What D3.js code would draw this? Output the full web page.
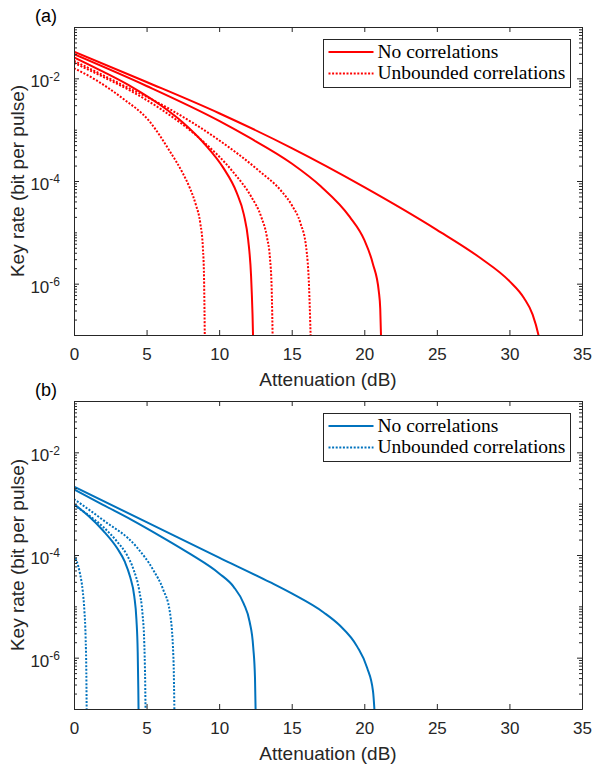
<!DOCTYPE html>
<html>
<head>
<meta charset="utf-8">
<script src="https://cdn.jsdelivr.net/npm/d3@7"></script>
<style>
  body { margin: 0; background: #fff; }
  svg { display: block; }
</style>
</head>
<body>
<div id="root"></div>
<script>
const width = 593;
const height = 766;

// x ticks and y tick exponents
const xTicks = [0, 5, 10, 15, 20, 25, 30, 35];
const yLabelExps = [-2, -4, -6];
const legendLabels = ['No correlations', 'Unbounded correlations'];

// panel (a), red: [attenuation dB, key rate]
const redSolid1 = [[0, 3.31e-2], [5, 8.5e-3], [10, 2.09e-3], [15, 4.37e-4], [20, 7.6e-5], [25, 1.12e-5], [28, 3.16e-6], [30, 1.12e-6], [31, 5.25e-7], [31.6, 2.5e-7], [32.0, 1e-7], [32.2, 5e-8]];
const redSolid2 = [[0, 2.95e-2], [5, 7.1e-3], [10, 1.48e-3], [12, 7.2e-4], [15, 2.19e-4], [17, 7.9e-5], [19, 2.0e-5], [20, 7.1e-6], [20.6, 2.4e-6], [21.0, 7.1e-7], [21.1, 3.2e-7], [21.18, 5e-8]];
const redSolid3 = [[0, 2.57e-2], [2, 1.35e-2], [4, 6.76e-3], [6, 2.95e-3], [7.5, 1.38e-3], [9, 5.25e-4], [10.3, 1.78e-4], [11.2, 6.0e-5], [11.7, 2.24e-5], [12.0, 7.1e-6], [12.2, 1.41e-6], [12.3, 2.5e-7], [12.36, 5e-8]];
const redDotted1 = [[0, 1.58e-2], [1.5, 9.3e-3], [3.3, 4.17e-3], [5.2, 1.45e-3], [6.6, 3.8e-4], [7.5, 1.41e-4], [8.0, 7.1e-5], [8.4, 3.4e-5], [8.7, 1.51e-5], [8.88, 5e-6], [8.96, 1.26e-6], [9.02, 5e-8]];
const redDotted2 = [[0, 2.0e-2], [2, 1.07e-2], [4, 5.5e-3], [6, 2.5e-3], [8.7, 6.6e-4], [11, 1.45e-4], [12.2, 5.0e-5], [12.9, 2.0e-5], [13.3, 7.9e-6], [13.5, 3.16e-6], [13.62, 7.9e-7], [13.7, 5e-8]];
const redDotted3 = [[0, 2.19e-2], [3, 8.3e-3], [6.6, 2.51e-3], [9.8, 6.8e-4], [12.7, 1.62e-4], [14.3, 6.3e-5], [15.0, 3.4e-5], [15.6, 1.51e-5], [16.0, 5e-6], [16.2, 7.9e-7], [16.28, 1.6e-7], [16.33, 5e-8]];

// panel (b), blue
const blueSolid1 = [[0, 2.14e-3], [5, 4.37e-4], [10, 8.9e-5], [13.5, 2.95e-5], [15, 1.78e-5], [17.2, 7.6e-6], [18.3, 4.27e-6], [19.5, 1.66e-6], [20.2, 6.3e-7], [20.6, 2.24e-7], [20.76, 5e-8]];
const blueSolid2 = [[0, 1.9e-3], [2, 9.5e-4], [4, 4.8e-4], [6, 2.29e-4], [8, 1.05e-4], [10, 4.37e-5], [11, 2.4e-5], [11.7, 1.12e-5], [12.1, 5e-6], [12.35, 1.58e-6], [12.47, 4e-7], [12.53, 5e-8]];
const blueSolid3 = [[0, 9.8e-4], [1, 5.75e-4], [2, 3.0e-4], [3, 1.32e-4], [3.5, 7.4e-5], [3.86, 3.8e-5], [4.15, 1.58e-5], [4.3, 5.6e-6], [4.39, 1.26e-6], [4.43, 2.5e-7], [4.46, 5e-8]];
const blueDotted1 = [[0, 1e-4], [0.2, 7.4e-5], [0.41, 4.37e-5], [0.6, 2.0e-5], [0.72, 7.9e-6], [0.8, 2.5e-6], [0.85, 5e-7], [0.88, 5e-8]];
const blueDotted2 = [[0, 9.3e-4], [1, 6.0e-4], [2, 3.55e-4], [3, 1.78e-4], [3.63, 1.02e-4], [4.1, 5.25e-5], [4.5, 2.0e-5], [4.72, 7.1e-6], [4.84, 2.0e-6], [4.9, 4e-7], [4.94, 5e-8]];
const blueDotted3 = [[0, 1.23e-3], [2, 4.8e-4], [4.3, 1.45e-4], [5.46, 5.1e-5], [6.15, 2.1e-5], [6.6, 7.9e-6], [6.85, 1.0e-6], [6.93, 5e-8]];

const panels = [
    { top: 27, label: '(a)', color: '#ff0000',
      solid: [redSolid1, redSolid2, redSolid3], dotted: [redDotted1, redDotted2, redDotted3] },
    { top: 401, label: '(b)', color: '#0072bd',
      solid: [blueSolid1, blueSolid2, blueSolid3], dotted: [blueDotted1, blueDotted2, blueDotted3] }
];

const left = 74;
const right = 582;
const plotH = 308;
const axisColor = '#262626';
const sans = '"Liberation Sans", Arial, Helvetica, sans-serif';
const serif = '"Liberation Serif", "Times New Roman", serif';
const dotPattern = '2,1.6';

const svg = d3.select('#root')
    .append('svg')
    .attr('width', width)
    .attr('height', height);

const x = d3.scaleLinear().domain([0, 35]).range([left, right]);

// minor ticks for the log axis: every m*10^k that is not a labelled decade
const minorTicks = [];
for (let e = -7; e <= -2; e++) {
    for (let m = 1; m <= 9; m++) {
        const v = m * Math.pow(10, e);
        if (m === 1 && yLabelExps.includes(e)) continue;
        if (v >= 1e-7 && v <= 1e-1) minorTicks.push(v);
    }
}
minorTicks.push(1e-1);

const styleAxis = g => {
    g.select('.domain').attr('stroke', axisColor);
    g.selectAll('.tick line').attr('stroke', axisColor);
    g.selectAll('.tick text').attr('fill', axisColor).attr('font-family', sans).attr('font-size', 17);
};

panels.forEach((p, idx) => {
    const top = p.top;
    const bottom = top + plotH;
    const y = d3.scaleLog().domain([1e-7, 1e-1]).range([bottom, top]);
    const g = svg.append('g');

    const clipId = `clip-${idx}`;
    g.append('clipPath').attr('id', clipId)
        .append('rect')
        .attr('x', left).attr('y', top)
        .attr('width', right - left).attr('height', plotH);

    const line = d3.line()
        .x(d => x(d[0]))
        .y(d => y(d[1]))
        .curve(d3.curveMonotoneX);

    const lines = g.append('g').attr('clip-path', `url(#${clipId})`);
    p.solid.forEach(s => {
        lines.append('path').datum(s)
            .attr('d', line)
            .attr('fill', 'none')
            .attr('stroke', p.color)
            .attr('stroke-width', 2);
    });
    p.dotted.forEach(s => {
        lines.append('path').datum(s)
            .attr('d', line)
            .attr('fill', 'none')
            .attr('stroke', p.color)
            .attr('stroke-width', 2)
            .attr('stroke-dasharray', dotPattern);
    });

    // x axes (bottom labelled, top bare)
    g.append('g')
        .attr('transform', `translate(0,${bottom})`)
        .call(d3.axisBottom(x).tickValues(xTicks).tickSizeInner(-5).tickSizeOuter(0).tickPadding(13))
        .call(styleAxis);
    g.append('g')
        .attr('transform', `translate(0,${top})`)
        .call(d3.axisTop(x).tickValues(xTicks).tickSizeInner(-5).tickSizeOuter(0).tickFormat(''))
        .call(styleAxis);

    // y axes: minor ticks then labelled decades
    const yMajor = yLabelExps.map(e => Math.pow(10, e));
    g.append('g')
        .attr('transform', `translate(${left},0)`)
        .call(d3.axisLeft(y).tickValues(minorTicks).tickSizeInner(-3).tickSizeOuter(0).tickFormat(''))
        .call(styleAxis);
    g.append('g')
        .attr('transform', `translate(${right},0)`)
        .call(d3.axisRight(y).tickValues(minorTicks).tickSizeInner(-3).tickSizeOuter(0).tickFormat(''))
        .call(styleAxis);
    g.append('g')
        .attr('transform', `translate(${right},0)`)
        .call(d3.axisRight(y).tickValues(yMajor).tickSizeInner(-5).tickSizeOuter(0).tickFormat(''))
        .call(styleAxis);
    const yAxis = g.append('g')
        .attr('transform', `translate(${left},0)`)
        .call(d3.axisLeft(y).tickValues(yMajor).tickSizeInner(-5).tickSizeOuter(0).tickPadding(14))
        .call(styleAxis);
    yAxis.selectAll('.tick text').each(function (d) {
        const t = d3.select(this);
        t.text(null).attr('dy', '0.5em');
        t.append('tspan').text('10');
        t.append('tspan').attr('dy', '-0.55em').attr('font-size', 12)
            .text(`-${Math.round(-Math.log10(d))}`);
    });

    // axis labels
    g.append('text')
        .attr('x', (left + right) / 2)
        .attr('y', bottom + 51)
        .attr('text-anchor', 'middle')
        .attr('font-family', sans).attr('font-size', 19).attr('fill', axisColor)
        .text('Attenuation (dB)');
    g.append('text')
        .attr('transform', `translate(24,${(top + bottom) / 2}) rotate(-90)`)
        .attr('text-anchor', 'middle')
        .attr('font-family', sans).attr('font-size', 19).attr('fill', axisColor)
        .text('Key rate (bit per pulse)');
    g.append('text')
        .attr('x', 35).attr('y', top - 5)
        .attr('font-family', sans).attr('font-size', 18).attr('fill', '#000')
        .text(p.label);

    // legend
    const lg = g.append('g').attr('transform', `translate(323.5,${top + 12.5})`);
    lg.append('rect')
        .attr('width', 247).attr('height', 48)
        .attr('fill', '#fff').attr('stroke', axisColor).attr('stroke-width', 1);
    legendLabels.forEach((lab, i) => {
        const ry = 12.5 + i * 21.5;
        lg.append('line')
            .attr('x1', 5).attr('x2', 50).attr('y1', ry).attr('y2', ry)
            .attr('stroke', p.color).attr('stroke-width', 2)
            .attr('stroke-dasharray', i === 1 ? dotPattern : null);
        lg.append('text')
            .attr('x', 54).attr('y', ry + 5.5)
            .attr('font-family', serif).attr('font-size', 19.5).attr('fill', '#000')
            .text(lab);
    });
});
</script>
</body>
</html>
